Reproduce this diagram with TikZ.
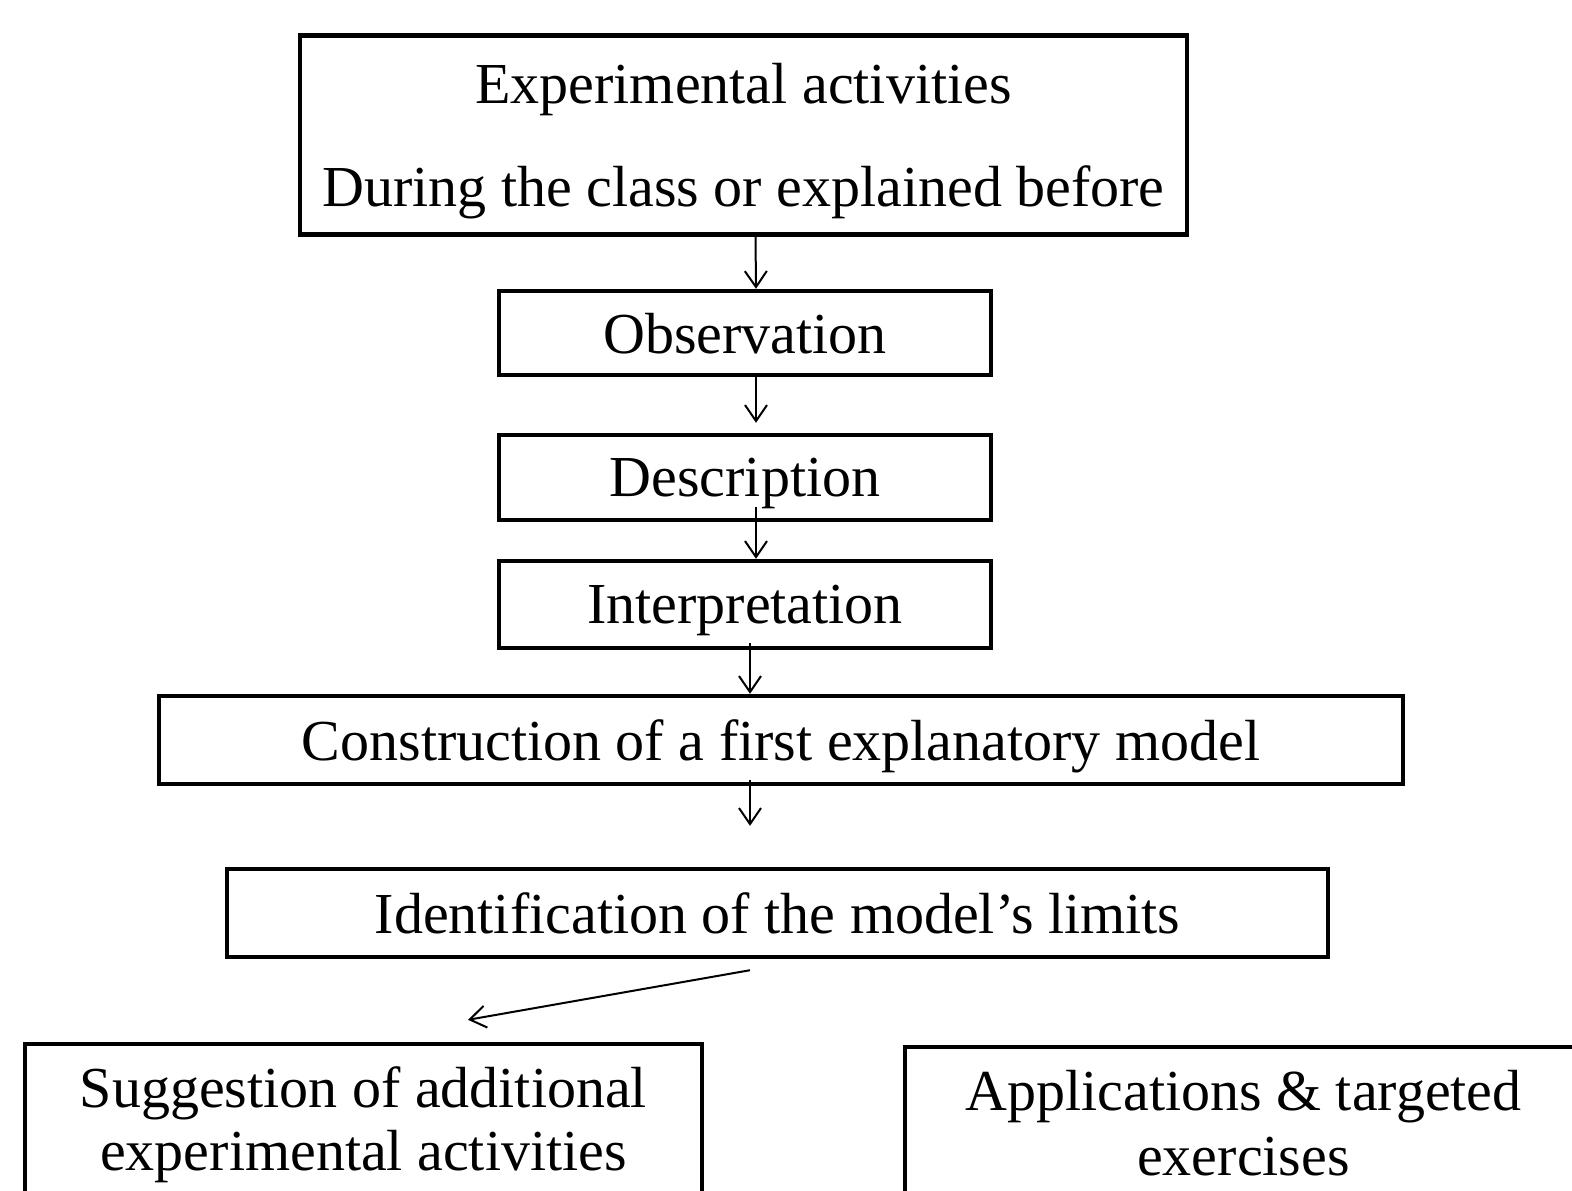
\documentclass[tikz,border=0pt]{standalone}
\usepackage{fontspec}
\setmainfont{Liberation Serif}
\usepackage{tikz}
\usetikzlibrary{arrows.meta}

\tikzset{
  stepbox/.style={rectangle,draw=black,line width=2.2pt,inner sep=0pt,align=center,
    text depth=0pt,font=\fontsize{29}{34}\selectfont},
  flow/.style={-{Straight Barb[length=8pt,width=11pt]},line width=1pt}
}

\begin{document}
\begin{tikzpicture}[x=0.5pt,y=-0.5pt]
\useasboundingbox (0,0) rectangle (1572,1190);
\clip (0,0) rectangle (1572,1190);
\node[stepbox,minimum width=443.5pt,minimum height=99.5pt,font=\fontsize{29}{51.5}\selectfont] (exp) at (743.5,135) {Experimental activities\\During the class or explained before};
\node[stepbox,minimum width=246pt,minimum height=42pt] (obs) at (745,333) {Observation};
\node[stepbox,minimum width=246pt,minimum height=42.5pt] (desc) at (745,477.5) {Description};
\node[stepbox,minimum width=246pt,minimum height=43.5pt] (interp) at (745,604.5) {Interpretation};
\node[stepbox,minimum width=622pt,minimum height=44pt] (constr) at (781,740) {Construction of a first explanatory model};
\node[stepbox,minimum width=550.5pt,minimum height=44pt] (ident) at (777.5,913) {Identification of the model’s limits};
\node[stepbox,minimum width=338.5pt,minimum height=75pt,font=\fontsize{29}{31.5}\selectfont] (sugg) at (363.5,1119) {Suggestion of additional\\experimental activities};
\node[stepbox,minimum width=338.5pt,minimum height=75.5pt,font=\fontsize{29}{32.5}\selectfont] (appl) at (1243.5,1122.5) {Applications \& targeted\\exercises};
% connectors
\draw[flow] ([xshift=6pt]exp.south) -- ([xshift=5.5pt]obs.north);
\draw[flow] ([xshift=5.5pt,yshift=2pt]obs.south) -- ([xshift=5.5pt,yshift=5pt]desc.north);
\draw[flow] ([xshift=5.5pt,yshift=7.5pt]desc.south) -- ([xshift=5.5pt]interp.north);
\draw[flow] ([xshift=2.5pt,yshift=3.5pt]interp.south) -- ([xshift=-15.5pt]constr.north);
\draw[flow] ([xshift=-15.5pt,yshift=3pt]constr.south) -- ([xshift=-13.75pt,yshift=20.5pt]ident.north);
\draw[flow] ([xshift=-13.75pt,yshift=-5.5pt]ident.south) -- ([xshift=52.25pt,yshift=11pt]sugg.north);
\end{tikzpicture}
\end{document}
